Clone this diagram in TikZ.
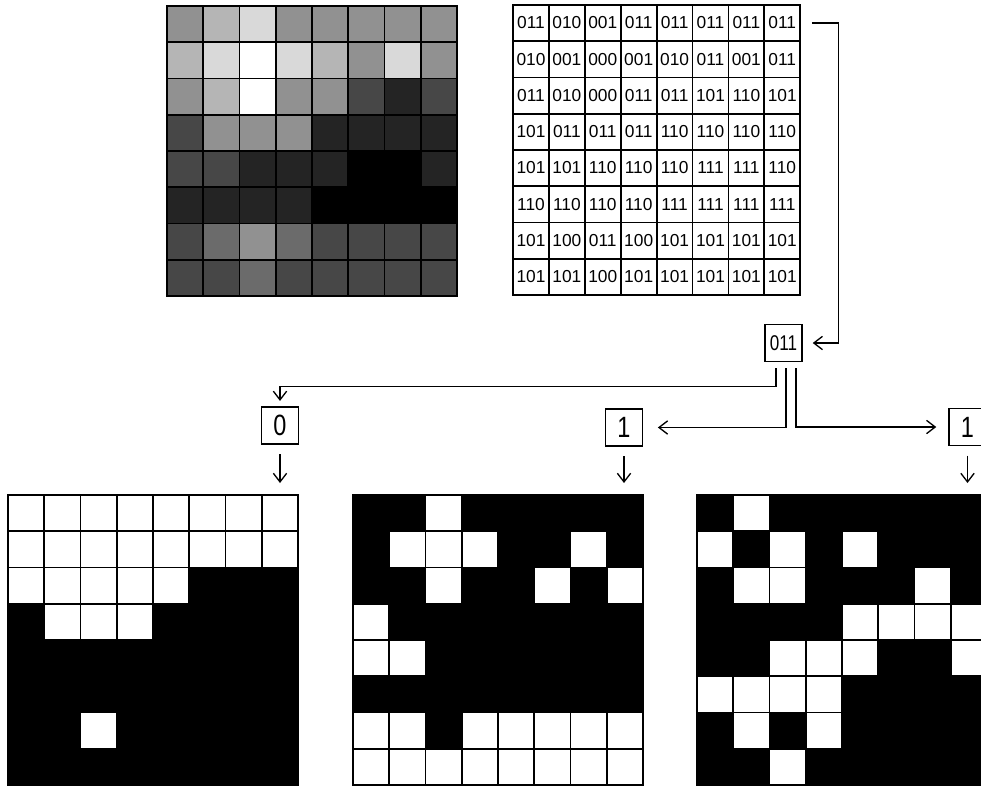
\documentclass[tikz,border=0pt]{standalone}
\usepackage{fontspec}
\setsansfont{Liberation Sans}
\newfontfamily\narrowsf[FakeStretch=0.8]{Liberation Sans}
\usetikzlibrary{arrows.meta,calc,positioning}
\tikzset{
  cell/.style={draw=black,line width=1.3pt},
  codecell/.style={rectangle,draw=black,line width=1.3pt,minimum width=26.9pt,
    minimum height=27.2pt,inner sep=0pt,font=\fontsize{13}{13}\sffamily},
  bitbox/.style={rectangle,draw=black,line width=1.1pt,minimum size=27.75pt,
    inner sep=0pt,font=\fontsize{22}{22}\narrowsf},
  codebox/.style={bitbox,font=\fontsize{16}{16}\narrowsf},
  conn/.style={line width=1pt,-{Straight Barb[length=6.5pt,width=10pt]}}
}
% 3-bit codes of the 8x8 image, row by row
\newcommand{\codegrid}{%
{011,010,001,011,011,011,011,011},%
{010,001,000,001,010,011,001,011},%
{011,010,000,011,011,101,110,101},%
{101,011,011,011,110,110,110,110},%
{101,101,110,110,110,111,111,110},%
{110,110,110,110,111,111,111,111},%
{101,100,011,100,101,101,101,101},%
{101,101,100,101,101,101,101,101}%
}
\def\splitbits#1#2#3\relax{\def\bA{#1}\def\bB{#2}\def\bC{#3}}

\begin{document}
\begin{tikzpicture}[x=0.75pt,y=-0.75pt]
  \useasboundingbox (0,0) rectangle (981,786);
  \foreach \row [count=\rw] in \codegrid {
    \foreach \v [count=\col] in \row {
      \expandafter\splitbits\v\relax
      \pgfmathsetmacro{\dx}{(\col-1)*36.25}
      \pgfmathsetmacro{\dy}{(\rw-1)*36.25}
      \pgfmathsetmacro{\cx}{531+(\col-1)*35.9}
      \pgfmathtruncatemacro{\tone}{100-(4*\bA+2*\bB+\bC)*100/7}
      % grey image
      \draw[cell,fill=white!\tone!black] (167+\dx,6+\dy) rectangle ++(36.25,36.25);
      % code table
      \node[codecell] (code-\rw-\col) at (\cx,23+\dy) {\v};
      % bit planes: 0 white, 1 black
      \foreach \bit/\px in {\bA/8,\bB/353,\bC/697} {
        \pgfmathtruncatemacro{\w}{100-100*\bit}
        \draw[cell,fill=white!\w!black] (\px+\dx,495+\dy) rectangle ++(36.25,36.25);
      }
    }
  }
  \node[codebox] (bits) at (783.5,343) {011};
  \node[bitbox] (b0) at (280,425.5) {0};
  \node[bitbox] (b1) at (624,427.5) {1};
  \node[bitbox] (b2) at (967.5,427) {1};
  \coordinate (top) at (0,495);
  % one pixel taken out of the table
  \draw[conn] ([xshift=8pt]code-1-8.east) -| ([xshift=27pt]bits.east) -- ([xshift=7.5pt]bits.east);
  % one bit to each plane
  \draw[conn] ([xshift=-5.6pt,yshift=-4.5pt]bits.south) -- ++(0,18) -| ([yshift=4pt]b0.north);
  \draw[conn] ([xshift=1.9pt,yshift=-4.5pt]bits.south) |- ([xshift=11pt]b1.east);
  \draw[conn] ([xshift=9.4pt,yshift=-4.5pt]bits.south) |- ([xshift=-9pt]b2.west);
  \foreach \nd in {b0,b1,b2}
    \draw[conn,shorten <=7pt,shorten >=9pt] (\nd.south) -- (\nd.south |- top);
\end{tikzpicture}
\end{document}
